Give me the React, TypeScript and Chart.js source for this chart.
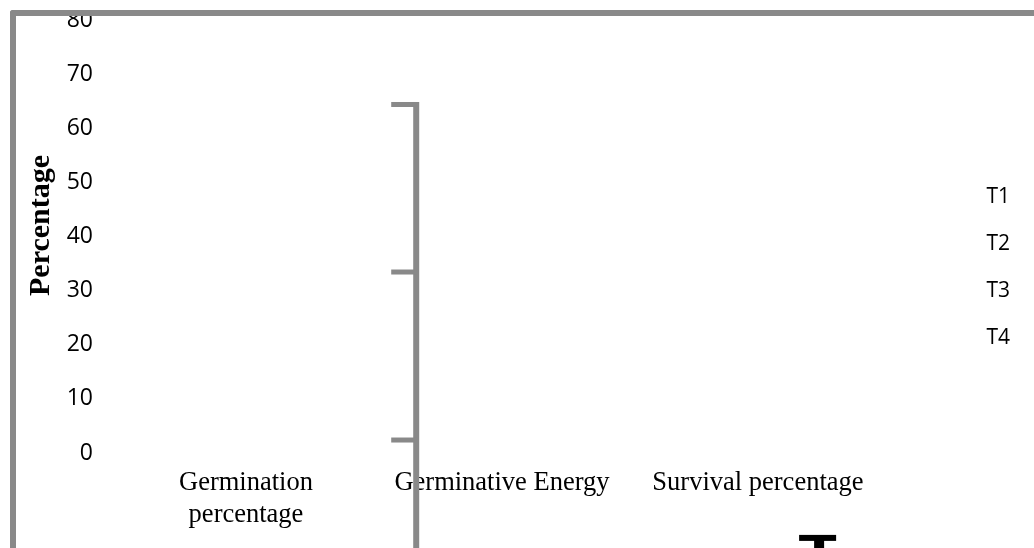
import React, { useEffect, useRef } from 'react';
import { Chart, registerables } from 'chart.js';

Chart.register(...registerables);

// ---- data ----
const categories: (string | string[])[] = [['Germination', 'percentage'], 'Germinative Energy', 'Survival percentage'];
const seriesLabels = ['T1', 'T2', 'T3', 'T4'];
// bar fills are not visible in the reference, so no bar values can be read
const t1Values: (number | null)[] = [null, null, null];
const t2Values: (number | null)[] = [null, null, null];
const t3Values: (number | null)[] = [null, null, null];
const t4Values: (number | null)[] = [null, null, null];
const yMin = 0;
const yMax = 80;
const yStep = 10;
const yTitle = '   Percentage';

// error-bar marks that are visible (category index position, values in %)
const grayErrorPosition = 0.665;
const grayErrorCaps = [64.45, 33.47, 2.4];
const blackErrorPosition = 2.239;
const blackErrorValues = [-15.7];

const marksPlugin = {
  id: 'errorMarks',
  afterDatasetsDraw(chart: any) {
    const { ctx } = chart;
    const x = chart.scales.x;
    const y = chart.scales.y;
    const px = (p: number) => x.getPixelForValue(0) + p * (x.getPixelForValue(1) - x.getPixelForValue(0));
    ctx.save();
    ctx.fillStyle = '#898989';
    const gx = px(grayErrorPosition);
    const topY = y.getPixelForValue(Math.max(...grayErrorCaps));
    ctx.fillRect(gx - 3, topY - 2.5, 6, chart.height - topY + 3);
    grayErrorCaps.forEach((v) => {
      const yy = y.getPixelForValue(v);
      ctx.fillRect(gx - 25, yy - 2.5, 25, 5);
    });
    ctx.fillStyle = '#000000';
    const bx = px(blackErrorPosition);
    blackErrorValues.forEach((v) => {
      const yy = y.getPixelForValue(v);
      ctx.fillRect(bx - 20, yy - 3, 37, 6);
      ctx.fillRect(bx - 5, yy, 10, chart.height - yy);
    });
    ctx.restore();
  },
};

export default function App() {
  const canvasRef = useRef<HTMLCanvasElement | null>(null);

  useEffect(() => {
    if (!canvasRef.current) return;
    const seriesValues = [t1Values, t2Values, t3Values, t4Values];
    const chart = new Chart(canvasRef.current, {
      type: 'bar',
      data: {
        labels: categories,
        datasets: seriesLabels.map((name, i) => ({
          label: name,
          data: seriesValues[i],
          backgroundColor: 'rgba(0,0,0,0)',
          borderWidth: 0,
        })),
      },
      options: {
        responsive: true,
        maintainAspectRatio: false,
        animation: false,
        layout: { padding: { left: 10, top: 20.4, right: 24, bottom: 11.2 } },
        plugins: {
          legend: {
            position: 'right',
            fullSize: false,
            align: 'start',
            title: { display: true, text: '', padding: { top: 128.4, bottom: 0 }, font: { size: 10 } },
            labels: {
              boxWidth: 54,
              padding: 26,
              textAlign: 'right',
              color: '#000000',
              font: { family: 'Open Sans', size: 21 },
            },
          },
          tooltip: { enabled: false },
        },
        scales: {
          x: {
            grid: { display: false, tickLength: 8 },
            border: { display: false },
            ticks: {
              color: '#000000',
              font: { family: 'Liberation Serif', size: 26.5 },
              padding: 6.1,
              maxRotation: 0,
              autoSkip: false,
            },
          },
          y: {
            min: yMin,
            max: yMax,
            grid: { display: false, tickLength: 21 },
            border: { display: false },
            ticks: {
              stepSize: yStep,
              padding: 4,
              color: '#000000',
              font: { family: 'Open Sans', size: 23 },
            },
            title: {
              display: true,
              text: yTitle,
              color: '#000000',
              font: { family: 'Liberation Serif', size: 30, weight: 'bold' },
              padding: { top: 13, bottom: 0 },
            },
            afterFit: (scale: any) => {
              scale.width = 108;
            },
          },
        },
      },
      plugins: [marksPlugin],
    } as any);
    return () => chart.destroy();
  }, []);

  return (
    <div style={{ position: 'absolute', left: 0, top: 0, width: 1034, height: 548, background: '#ffffff' }}>
      <canvas ref={canvasRef} style={{ width: '100%', height: '100%' }} />
      <div
        style={{
          position: 'absolute',
          left: 10,
          top: 10,
          width: 1024,
          height: 538,
          boxSizing: 'border-box',
          borderTop: '6px solid #898989',
          borderLeft: '6px solid #898989',
          borderTopLeftRadius: 3,
          pointerEvents: 'none',
        }}
      />
    </div>
  );
}
